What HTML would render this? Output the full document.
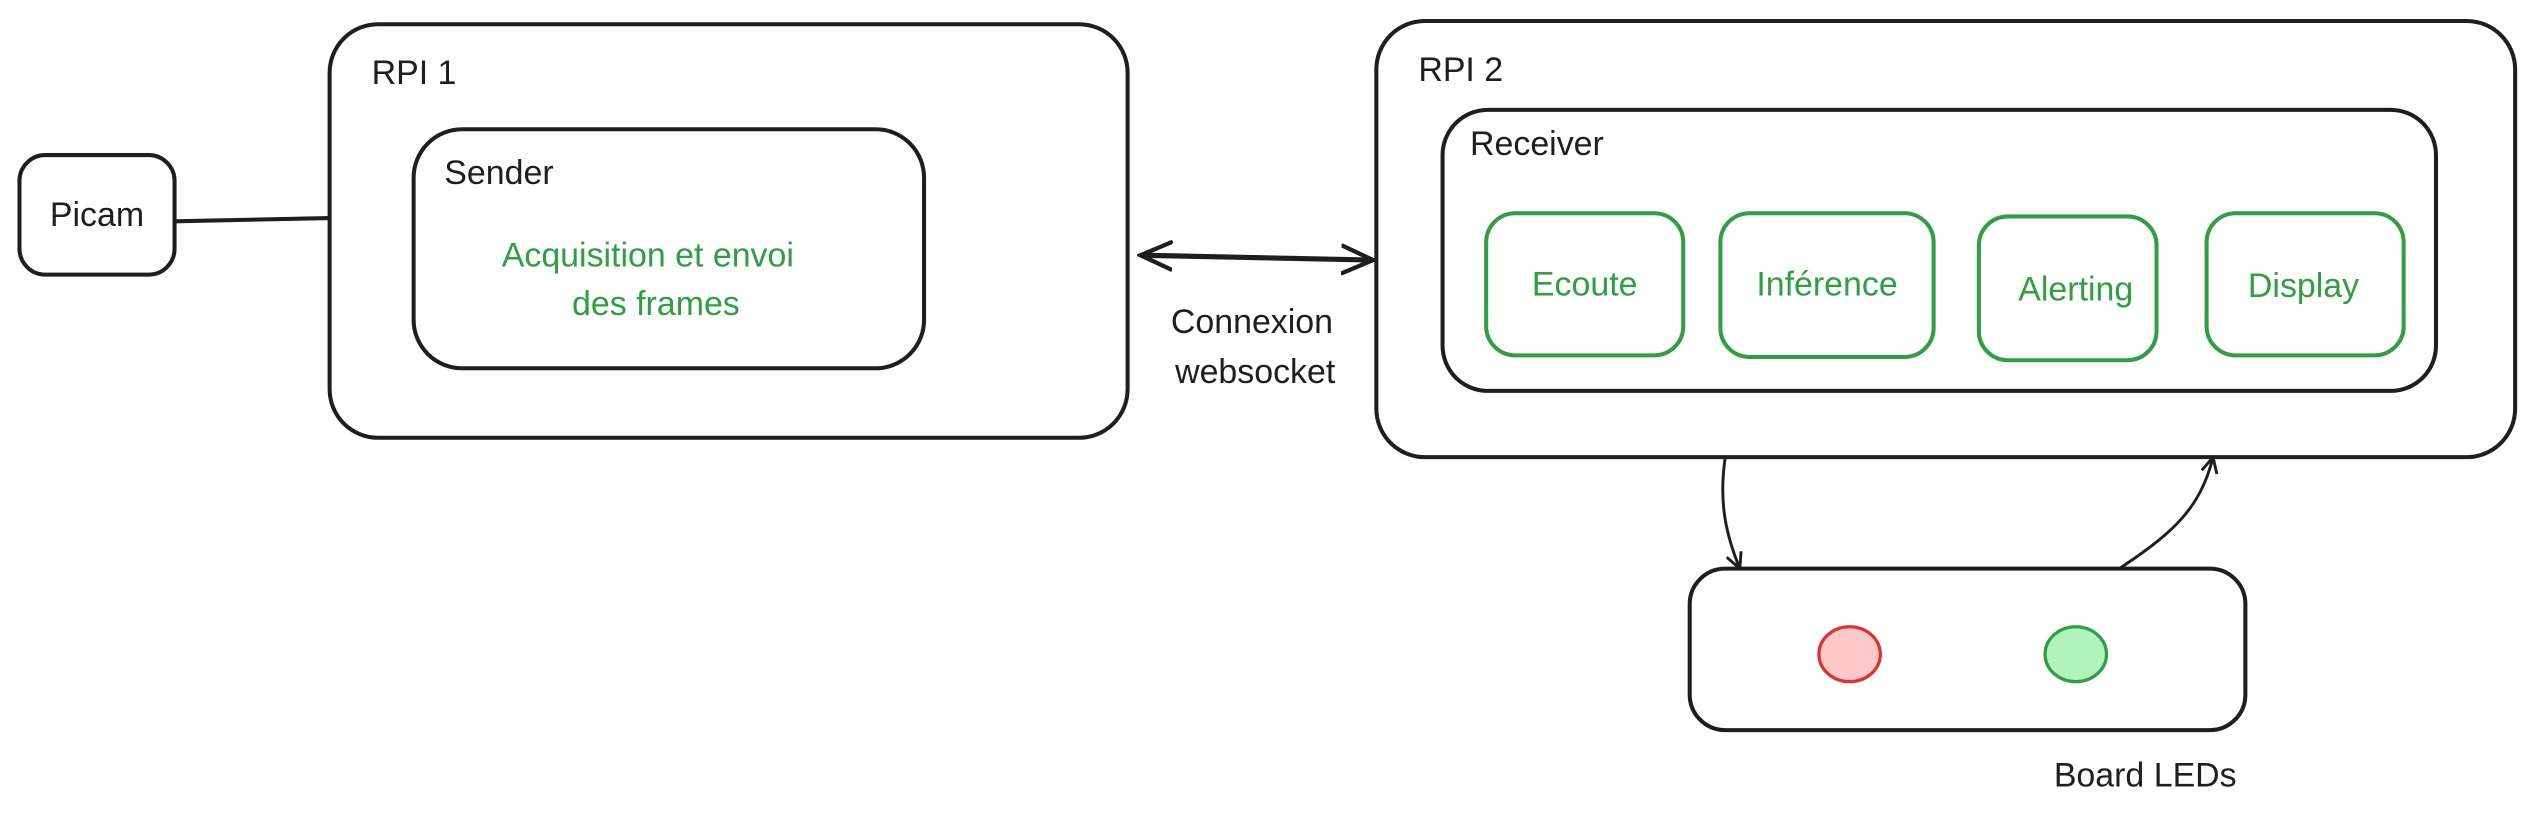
<!DOCTYPE html>
<html><head><meta charset="utf-8"><style>
html,body{margin:0;padding:0;background:#fff;}
svg{display:block;}
text{font-family:"Liberation Sans",sans-serif;}
</style></head><body>
<svg width="2533" height="823" viewBox="0 0 1568 509.5" xmlns="http://www.w3.org/2000/svg">
<defs>
<marker id="ah" viewBox="0 0 10 10" refX="9" refY="5" markerWidth="12" markerHeight="12" orient="auto-start-reverse" markerUnits="userSpaceOnUse">
<path d="M1,1 L9,5 L1,9" fill="none" stroke="#1e1e1e" stroke-width="1.5"/>
</marker>
<marker id="ah2" viewBox="0 0 10 10" refX="9" refY="5" markerWidth="22" markerHeight="22" orient="auto-start-reverse" markerUnits="userSpaceOnUse">
<path d="M0,1 L9,5 L0,9" fill="none" stroke="#1e1e1e" stroke-width="1.2"/>
</marker>
</defs>
<g fill="none" stroke="#1e1e1e" stroke-width="2.5">
<rect x="12" y="96" width="96" height="74" rx="16"/>
<line x1="108" y1="137" x2="204" y2="135"/>
<rect x="204" y="15" width="494" height="256" rx="30"/>
<rect x="256" y="80" width="316" height="148" rx="30"/>
<rect x="852" y="13" width="705" height="270" rx="30"/>
<rect x="893" y="68" width="615" height="174" rx="28"/>
<rect x="1046" y="352" width="344" height="100" rx="22"/>
<line x1="706" y1="158" x2="850" y2="161" stroke-width="3.2" marker-start="url(#ah2)" marker-end="url(#ah2)"/>
<path d="M1068,283 C1064,310 1068,330 1077,352" stroke-width="1.8" marker-end="url(#ah)"/>
<path d="M1312,352 C1345,330 1362,315 1370,283" stroke-width="1.8" marker-end="url(#ah)"/>
</g>
<g fill="none" stroke="#2f9e44" stroke-width="2.5">
<rect x="920" y="132" width="122" height="88" rx="18"/>
<rect x="1065" y="132" width="132" height="89" rx="18"/>
<rect x="1225" y="134" width="110" height="89" rx="18"/>
<rect x="1366" y="132" width="122" height="88" rx="18"/>
</g>
<ellipse cx="1145" cy="405" rx="19" ry="17" fill="#ffc9c9" stroke="#e03131" stroke-width="2"/>
<ellipse cx="1285" cy="405" rx="19" ry="17" fill="#b2f2bb" stroke="#2f9e44" stroke-width="2"/>
<g fill="#1e1e1e" font-size="21">
<text x="60" y="140" text-anchor="middle">Picam</text>
<text x="230" y="52">RPI 1</text>
<text x="275" y="114">Sender</text>
<text x="878" y="50">RPI 2</text>
<text x="910" y="96">Receiver</text>
<text x="775" y="206" text-anchor="middle">Connexion</text>
<text x="777" y="237" text-anchor="middle">websocket</text>
<text x="1328" y="487" text-anchor="middle">Board LEDs</text>
</g>
<g fill="#2f9e44" font-size="21" text-anchor="middle">
<text x="401" y="165">Acquisition et envoi</text>
<text x="406" y="195">des frames</text>
<text x="981" y="183">Ecoute</text>
<text x="1131" y="183">Inférence</text>
<text x="1285" y="186">Alerting</text>
<text x="1426" y="184">Display</text>
</g>
</svg>
</body></html>
